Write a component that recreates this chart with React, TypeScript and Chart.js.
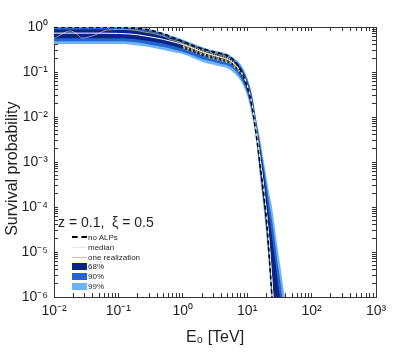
import React, { useEffect, useRef } from 'react';
import { Chart, registerables } from 'chart.js';
Chart.register(...registerables);

// ---- data ----
const X_MAJOR = [1e-2, 1e-1, 1, 10, 100, 1000];
const Y_MAJOR = [1e-6, 1e-5, 1e-4, 1e-3, 1e-2, 1e-1, 1];

const ENERGY = [0.01, 0.02, 0.05, 0.1, 0.15, 0.2, 0.3, 0.5, 0.7, 1, 1.5, 2, 3, 4, 5, 6, 7, 8, 10, 12, 14, 16, 18, 20, 22, 24, 26, 28, 30, 33, 36, 40];

const UP99 = [1.0, 1.0, 1.0, 1.0, 1.0, 0.98, 0.9, 0.74, 0.63, 0.53, 0.42, 0.36, 0.3, 0.28, 0.25, 0.21, 0.18, 0.145, 0.075, 0.03, 0.008, 3e-3, 1.1e-3, 4.5e-4, 2e-4, 1.1e-4, 5e-5, 2.2e-5, 1.1e-5, 4.5e-6, 1.8e-6, 7e-7];
const UP90 = [0.96, 0.96, 0.96, 0.96, 0.95, 0.92, 0.85, 0.69, 0.59, 0.5, 0.39, 0.34, 0.28, 0.26, 0.23, 0.195, 0.165, 0.13, 0.068, 0.027, 0.0072, 2.4e-3, 8e-4, 3e-4, 1.2e-4, 5.5e-5, 2.5e-5, 1.1e-5, 5e-6, 2e-6, 7e-7, 1.5e-7];
const UP68 = [0.88, 0.88, 0.88, 0.88, 0.86, 0.83, 0.77, 0.63, 0.54, 0.46, 0.36, 0.31, 0.26, 0.24, 0.215, 0.18, 0.15, 0.118, 0.06, 0.023, 0.0062, 1.8e-3, 5.5e-4, 1.8e-4, 6e-5, 2.5e-5, 1e-5, 4.5e-6, 2e-6, 8e-7, 2e-7, 5e-8];
const LO68 = [0.56, 0.56, 0.56, 0.56, 0.55, 0.53, 0.49, 0.43, 0.38, 0.33, 0.27, 0.23, 0.2, 0.18, 0.165, 0.14, 0.112, 0.085, 0.042, 0.015, 0.0038, 6.5e-4, 1.6e-4, 3.8e-5, 8e-6, 1.6e-6, 3e-7, 1e-9, 1e-9, 1e-9, 1e-9, 1e-9];
const LO90 = [0.48, 0.48, 0.48, 0.48, 0.47, 0.45, 0.41, 0.36, 0.32, 0.28, 0.23, 0.195, 0.17, 0.15, 0.14, 0.12, 0.095, 0.072, 0.035, 0.012, 0.003, 5e-4, 1.2e-4, 2.8e-5, 6e-6, 1.2e-6, 2e-7, 1e-9, 1e-9, 1e-9, 1e-9, 1e-9];
const LO99 = [0.42, 0.42, 0.42, 0.42, 0.41, 0.39, 0.36, 0.31, 0.28, 0.25, 0.2, 0.17, 0.145, 0.13, 0.12, 0.1, 0.08, 0.062, 0.03, 0.01, 0.0025, 4e-4, 9e-5, 2e-5, 4e-6, 8e-7, 1e-7, 1e-9, 1e-9, 1e-9, 1e-9, 1e-9];

const MEDIAN = [0.73, 0.73, 0.73, 0.72, 0.70, 0.67, 0.61, 0.53, 0.47, 0.41, 0.33, 0.28, 0.235, 0.21, 0.19, 0.16, 0.13, 0.10, 0.05, 0.018, 0.0045, 1.1e-3, 2.8e-4, 7e-5, 1.5e-5, 2.8e-6, 5e-7];
const NO_ALPS = [0.985, 0.985, 0.985, 0.98, 0.96, 0.93, 0.86, 0.7, 0.58, 0.48, 0.38, 0.33, 0.28, 0.255, 0.23, 0.19, 0.145, 0.105, 0.048, 0.016, 0.0035, 8e-4, 2e-4, 5e-5, 8e-6, 1.2e-6, 1.5e-7];

const REAL_E = [0.01, 0.0133, 0.0177, 0.022, 0.027, 0.035, 0.045, 0.066, 0.1, 0.17, 0.26, 0.35, 0.44, 0.55, 0.63, 0.75, 0.85, 0.9, 0.95, 1.0, 1.05, 1.1, 1.15, 1.2, 1.27, 1.33, 1.4, 1.48, 1.55, 1.63, 1.72, 1.8, 1.9, 2.0, 2.1, 2.2, 2.32, 2.45, 2.57, 2.7, 2.85, 3.0, 3.15, 3.3, 3.5, 3.7, 3.9, 4.1, 4.3, 4.5, 4.75, 5.0, 5.25, 5.5, 5.8, 6.1, 6.4, 6.7, 7.0, 7.4, 7.8, 8.2, 8.6, 9.0, 9.5, 10, 11, 12, 13, 14, 16, 18, 20, 22, 24, 26];
const REAL_P = [0.55, 0.7, 0.82, 0.72, 0.57, 0.6, 0.68, 0.85, 0.88, 0.86, 0.77, 0.72, 0.66, 0.6, 0.53, 0.5, 0.47, 0.46, 0.43, 0.45, 0.32, 0.43, 0.41, 0.30, 0.40, 0.39, 0.28, 0.37, 0.36, 0.26, 0.34, 0.33, 0.24, 0.31, 0.30, 0.22, 0.29, 0.28, 0.2, 0.27, 0.265, 0.19, 0.26, 0.25, 0.18, 0.245, 0.24, 0.17, 0.235, 0.225, 0.16, 0.215, 0.2, 0.15, 0.19, 0.175, 0.125, 0.155, 0.14, 0.1, 0.115, 0.1, 0.075, 0.078, 0.065, 0.052, 0.032, 0.018, 0.009, 0.0045, 1.1e-3, 2.8e-4, 7e-5, 1.5e-5, 2.8e-6, 5e-7];

const LEGEND_LABELS = ['no ALPs', 'median', 'one realization', '68%', '90%', '99%'];

// ---- styles ----
const C68 = '#0b2384';
const C90 = '#2364d0';
const C99 = '#6cb4f4';
const YELLOW = '#e4c82c';
const OLIVE = '#9e9b74';
const TEXT = '#231f20';
const AXIS = '#333333';
const FONT = "'Liberation Sans', Arial, sans-serif";

const SUP: Record<string, string> = { '-': '⁻', '0': '⁰', '1': '¹', '2': '²', '3': '³', '4': '⁴', '5': '⁵', '6': '⁶', '7': '⁷', '8': '⁸', '9': '⁹' };

function fmt(v: number): string {
  const l = Math.log10(v);
  const e = Math.round(l);
  if (Math.abs(l - e) > 1e-6) return '';
  return '10' + String(e).split('').map((c) => SUP[c]).join('');
}

function makeTicks(majors: number[]) {
  const out: { value: number }[] = [];
  for (let i = 0; i < majors.length - 1; i++) {
    for (let k = 1; k <= 9; k++) out.push({ value: majors[i] * k });
  }
  out.push({ value: majors[majors.length - 1] });
  return out;
}

const pts = (xs: number[], ys: number[]) => ys.map((y, i) => ({ x: xs[i], y }));

export default function App() {
  const ref = useRef<HTMLCanvasElement>(null);

  useEffect(() => {
    if (!ref.current) return;
    Chart.defaults.font.family = FONT;
    const hidden = { borderWidth: 0, pointRadius: 0, fill: false, cubicInterpolationMode: 'monotone' as const };
    const chart = new Chart(ref.current, {
      type: 'line',
      data: {
        datasets: [
          { label: 'lo99', data: pts(ENERGY, LO99), ...hidden, order: 10 },
          { label: '99%', data: pts(ENERGY, UP99), borderWidth: 0, pointRadius: 0, backgroundColor: C99, fill: 0, cubicInterpolationMode: 'monotone', order: 10 },
          { label: 'lo90', data: pts(ENERGY, LO90), ...hidden, order: 9 },
          { label: '90%', data: pts(ENERGY, UP90), borderWidth: 0, pointRadius: 0, backgroundColor: C90, fill: 2, cubicInterpolationMode: 'monotone', order: 9 },
          { label: 'lo68', data: pts(ENERGY, LO68), ...hidden, order: 8 },
          { label: '68%', data: pts(ENERGY, UP68), borderWidth: 0, pointRadius: 0, backgroundColor: C68, fill: 4, cubicInterpolationMode: 'monotone', order: 8 },
          {
            label: 'one realization', data: pts(REAL_E, REAL_P), borderWidth: 1, pointRadius: 0, fill: false,
            borderColor: YELLOW, cubicInterpolationMode: 'monotone', order: 3,
            segment: { borderColor: (ctx: any) => (ctx.p0.parsed.x < 0.8 ? OLIVE : YELLOW) },
          },
          { label: 'median', data: pts(ENERGY, MEDIAN), borderWidth: 1, pointRadius: 0, fill: false, borderColor: '#ffffff', cubicInterpolationMode: 'monotone', order: 2 },
          { label: 'no ALPs', data: pts(ENERGY, NO_ALPS), borderWidth: 1.6, borderDash: [4, 3], pointRadius: 0, fill: false, borderColor: '#000000', cubicInterpolationMode: 'monotone', order: 1 },
        ],
      },
      options: {
        animation: false,
        responsive: true,
        maintainAspectRatio: false,
        events: [],
        layout: { padding: { left: 0, right: 39, top: 27, bottom: 0 } },
        plugins: { legend: { display: false }, tooltip: { enabled: false } },
        scales: {
          x: {
            type: 'logarithmic', position: 'bottom', min: 1e-2, max: 1e3,
            afterBuildTicks: (s: any) => { s.ticks = makeTicks(X_MAJOR); },
            afterFit: (s: any) => { s.height = 57; },
            ticks: { autoSkip: false, maxRotation: 0, minRotation: 0, padding: 10, color: TEXT, font: { size: 14 }, callback: (v: any) => fmt(Number(v)) },
            grid: { drawOnChartArea: false, drawTicks: true, tickLength: -4, color: AXIS },
            border: { color: AXIS, width: 1 },
            title: { display: true, text: 'E₀ [TeV]', color: TEXT, font: { size: 16 }, padding: { top: 0, bottom: 7 } },
          },
          x2: {
            type: 'logarithmic', position: 'top', min: 1e-2, max: 1e3, display: true,
            afterBuildTicks: (s: any) => { s.ticks = makeTicks(X_MAJOR); },
            afterFit: (s: any) => { s.height = 0; },
            ticks: { display: false, autoSkip: false },
            grid: { drawOnChartArea: false, drawTicks: true, tickLength: -4, color: AXIS },
            border: { color: AXIS, width: 1 },
          },
          y: {
            type: 'logarithmic', position: 'left', min: 1e-6, max: 1,
            afterBuildTicks: (s: any) => { s.ticks = makeTicks(Y_MAJOR); },
            afterFit: (s: any) => { s.width = 54; },
            ticks: { autoSkip: false, padding: 10, color: TEXT, font: { size: 14 }, callback: (v: any) => fmt(Number(v)) },
            grid: { drawOnChartArea: false, drawTicks: true, tickLength: -4, color: AXIS },
            border: { color: AXIS, width: 1 },
            title: { display: true, text: 'Survival probability   ', color: TEXT, font: { size: 16 }, padding: { top: 3, bottom: 0 } },
          },
          y2: {
            type: 'logarithmic', position: 'right', min: 1e-6, max: 1, display: true,
            afterBuildTicks: (s: any) => { s.ticks = makeTicks(Y_MAJOR); },
            afterFit: (s: any) => { s.width = 0; },
            ticks: { display: false, autoSkip: false },
            grid: { drawOnChartArea: false, drawTicks: true, tickLength: -4, color: AXIS },
            border: { color: AXIS, width: 1 },
          },
        },
      } as any,
    });
    return () => chart.destroy();
  }, []);

  const rowStyle = (cy: number): React.CSSProperties => ({
    position: 'absolute', left: 72, top: cy - 5, height: 10, display: 'flex', alignItems: 'center',
    fontFamily: FONT, fontSize: 8, color: TEXT, whiteSpace: 'nowrap',
  });
  const lineSample = (style: React.CSSProperties) => (
    <div style={{ width: 15, height: 0, marginRight: 1, ...style }} />
  );
  const swatch = (color: string) => (
    <div style={{ width: 15, height: 7, background: color, marginRight: 1 }} />
  );

  return (
    <div style={{ position: 'fixed', left: 0, top: 0, width: 415, height: 354, background: '#fff' }}>
      <canvas ref={ref} />
      <div style={{ position: 'absolute', left: 58, top: 214, fontFamily: FONT, fontSize: 14, lineHeight: '16px', color: TEXT, whiteSpace: 'pre' }}>
        {'z = 0.1,  ξ = 0.5'}
      </div>
      <div style={rowStyle(237)}>{lineSample({ borderTop: '2px dashed #000' })}<span>{LEGEND_LABELS[0]}</span></div>
      <div style={rowStyle(247)}>{lineSample({ borderTop: '1px solid #e6e6e6' })}<span>{LEGEND_LABELS[1]}</span></div>
      <div style={rowStyle(257)}>{lineSample({ borderTop: '1px solid ' + YELLOW })}<span>{LEGEND_LABELS[2]}</span></div>
      <div style={rowStyle(266.5)}>{swatch(C68)}<span>{LEGEND_LABELS[3]}</span></div>
      <div style={rowStyle(276)}>{swatch(C90)}<span>{LEGEND_LABELS[4]}</span></div>
      <div style={rowStyle(286.5)}>{swatch(C99)}<span>{LEGEND_LABELS[5]}</span></div>
    </div>
  );
}
